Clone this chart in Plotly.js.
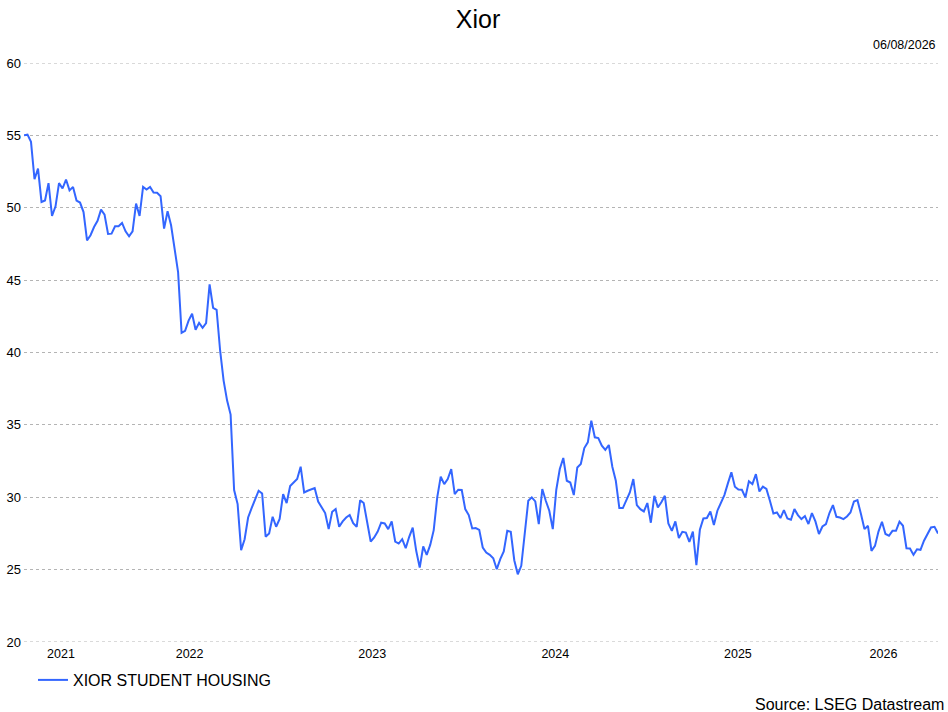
<!DOCTYPE html>
<html>
<head>
<meta charset="utf-8">
<script src="https://cdn.plot.ly/plotly-3.0.1.min.js"></script>
<style>
html,body{margin:0;padding:0;background:#fff;}
#chart{width:948px;height:712px;}
</style>
</head>
<body>
<div id="chart"></div>
<script>
// Weekly closing prices (EUR)
const seriesName = "XIOR STUDENT HOUSING";
const startDate = "2021-08-05";
const endDate = "2026-08-06";
const prices = [
  55.0, 55.05, 54.55, 51.97, 52.7, 50.4, 50.5, 51.7, 49.43, 50.1,
  51.7, 51.33, 51.95, 51.2, 51.44, 50.5, 50.36, 49.7, 47.75, 48.1,
  48.67, 49.1, 49.87, 49.53, 48.19, 48.21, 48.72, 48.72, 48.95, 48.37,
  48.03, 48.37, 50.29, 49.43, 51.44, 51.26, 51.44, 51.05, 51.03, 50.8,
  48.56, 49.76, 48.79, 47.18, 45.56, 41.36, 41.5, 42.2, 42.68, 41.57,
  42.05, 41.71, 42.03, 44.71, 43.09, 42.95, 40.14, 38.06, 36.68, 35.71,
  30.5, 29.53, 26.35, 27.1, 28.6, 29.25, 29.87, 30.45, 30.26, 27.27,
  27.5, 28.65, 27.96, 28.5, 30.22, 29.6, 30.78, 31.02, 31.26, 32.11,
  30.33, 30.45, 30.54, 30.64, 29.7, 29.35, 28.91, 27.8, 29.0, 29.18,
  27.96, 28.33, 28.6, 28.77, 28.21, 27.96, 29.8, 29.6, 28.37, 26.94,
  27.22, 27.63, 28.24, 28.19, 27.8, 28.33, 26.94, 26.8, 27.1, 26.48,
  27.27, 27.9, 26.3, 25.14, 26.6, 26.02, 26.71, 27.73, 29.99, 31.42,
  30.91, 31.26, 31.95, 30.22, 30.52, 30.5, 29.18, 28.77, 27.84, 27.87,
  27.75, 26.53, 26.18, 26.02, 25.79, 25.03, 25.72, 26.25, 27.68, 27.61,
  25.65, 24.68, 25.26, 27.56, 29.76, 29.99, 29.71, 28.15, 30.57, 29.76,
  29.07, 27.8, 30.52, 31.95, 32.71, 31.14, 31.02, 30.15, 32.06, 32.3,
  33.4, 33.79, 35.29, 34.14, 34.09, 33.56, 33.27, 33.61, 32.11, 31.14,
  29.25, 29.25, 29.8, 30.33, 31.26, 29.46, 29.18, 29.02, 29.6, 28.24,
  30.1, 29.3, 29.65, 30.1, 28.19, 27.68, 28.33, 27.18, 27.61, 27.56,
  26.92, 27.63, 25.31, 27.75, 28.53, 28.56, 29.02, 28.08, 29.07, 29.65,
  30.15, 30.96, 31.72, 30.73, 30.54, 30.52, 29.99, 31.1, 30.91, 31.6,
  30.4, 30.73, 30.57, 29.76, 28.88, 28.95, 28.56, 29.11, 28.53, 28.45,
  29.18, 28.77, 28.49, 28.7, 28.15, 28.91, 28.33, 27.46, 27.98, 28.15,
  28.91, 29.46, 28.65, 28.6, 28.49, 28.67, 28.95, 29.71, 29.8, 28.84,
  27.8, 28.03, 26.3, 26.64, 27.63, 28.31, 27.46, 27.34, 27.68, 27.68,
  28.31, 28.03, 26.48, 26.46, 26.02, 26.41, 26.37, 27.0, 27.46, 27.91,
  27.96, 27.5
];
const yearLabels = ["2021", "2022", "2023", "2024", "2025", "2026"];
const yTicks = [20, 25, 30, 35, 40, 45, 50, 55, 60];
const chartTitle = "Xior";
const dateStamp = "06/08/2026";
const sourceText = "Source: LSEG Datastream";

// weekly dates ending on endDate
const DAY = 86400000;
const endMs = Date.parse(endDate + "T00:00:00Z");
const dates = prices.map((_, i) => {
  const d = new Date(endMs - (prices.length - 1 - i) * 7 * DAY);
  return d.toISOString().slice(0, 10);
});
const first = Date.parse(dates[0] + "T00:00:00Z");
const last = endMs;

// year labels centred on the visible part of each year
const tickvals = yearLabels.map(y => {
  const a = Math.max(Date.UTC(+y, 0, 1), first);
  const b = Math.min(Date.UTC(+y + 1, 0, 1), last);
  return new Date((a + b) / 2).toISOString().slice(0, 10);
});

const FONT = "Liberation Sans, Arial, Helvetica, sans-serif";
const GRID = "#b4b4b4";

const trace = {
  type: "scatter",
  mode: "lines",
  x: dates,
  y: prices,
  name: seriesName,
  line: {color: "#3366ff", width: 2},
  hoverinfo: "x+y"
};

// Plotly omits gridlines on the range edges; draw those two as shapes
const edgeGrid = [yTicks[0], yTicks[yTicks.length - 1]].map(v => ({
  type: "line", xref: "paper", x0: 0, x1: 1, yref: "y", y0: v, y1: v,
  line: {color: GRID, width: 1, dash: "dot"}, layer: "below"
}));

const layout = {
  width: 948,
  height: 712,
  paper_bgcolor: "#ffffff",
  plot_bgcolor: "#ffffff",
  font: {family: FONT, size: 12, color: "#000000"},
  margin: {l: 24, r: 10, t: 63, b: 70, pad: 0},
  title: {
    text: chartTitle,
    font: {family: FONT, size: 25, color: "#000000"},
    xref: "container", x: 478 / 948, xanchor: "center",
    yref: "container", y: 1 - 19 / 712, yanchor: "middle"
  },
  xaxis: {
    type: "date",
    range: [dates[0], endDate],
    tickmode: "array",
    tickvals: tickvals,
    ticktext: yearLabels,
    showgrid: false,
    zeroline: false,
    showline: false,
    ticks: "",
    ticklabelstandoff: 2,
    tickfont: {family: FONT, size: 12.5, color: "#000000"}
  },
  yaxis: {
    range: [20, 60],
    tickmode: "array",
    tickvals: yTicks,
    ticktext: yTicks.map(String),
    showgrid: true,
    gridcolor: GRID,
    gridwidth: 1,
    griddash: "dot",
    zeroline: false,
    showline: false,
    ticks: "",
    ticklabelstandoff: 2,
    tickfont: {family: FONT, size: 13, color: "#000000"}
  },
  shapes: edgeGrid,
  showlegend: true,
  legend: {
    orientation: "h",
    xref: "container", x: 33 / 948, xanchor: "left",
    yref: "container", y: 1 - 680 / 712, yanchor: "middle",
    font: {family: FONT, size: 16, color: "#000000"},
    bgcolor: "rgba(0,0,0,0)"
  },
  annotations: [
    {
      text: dateStamp, showarrow: false,
      xref: "paper", x: (938 - 24) / 914, xanchor: "right",
      yref: "paper", y: (641.7 - 45) / 578.7, yanchor: "middle",
      font: {family: FONT, size: 12.5, color: "#000000"}
    },
    {
      text: sourceText, showarrow: false,
      xref: "paper", x: (946 - 24) / 914, xanchor: "right",
      yref: "paper", y: (641.7 - 704) / 578.7, yanchor: "middle",
      font: {family: FONT, size: 16, color: "#000000"}
    }
  ]
};

Plotly.newPlot("chart", [trace], layout, {displayModeBar: false, staticPlot: true});
</script>
</body>
</html>
